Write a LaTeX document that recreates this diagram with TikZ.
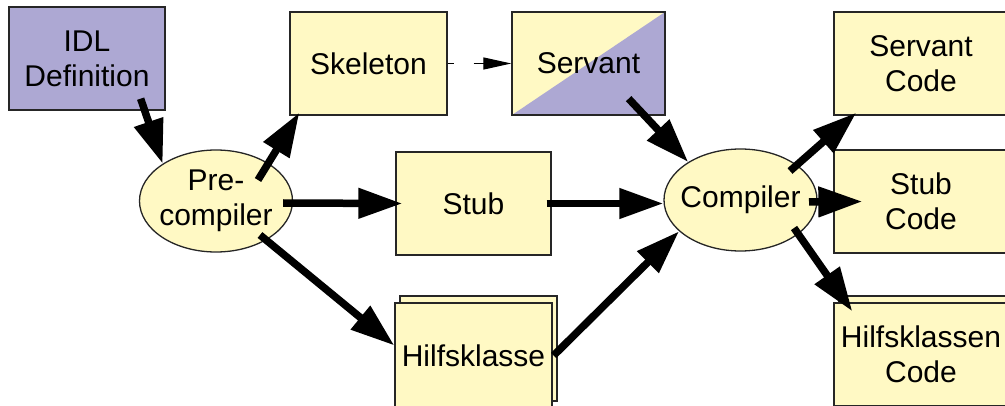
\documentclass[tikz,border=0pt]{standalone}
\usepackage{fontspec}
\setmainfont{Liberation Sans}
\usetikzlibrary{arrows.meta,shapes.geometric,shadows}

\definecolor{boxyellow}{RGB}{255,249,196}
\definecolor{idlpurple}{RGB}{173,168,211}

\begin{document}
\begin{tikzpicture}[x=1pt,y=1pt,
    every node/.style={font=\fontsize{30}{35}\selectfont, align=center, inner sep=0pt},
    box/.style={draw=black!85, line width=1.3pt, fill=boxyellow, minimum height=103pt},
    idlbox/.style={box, fill=idlpurple},
    prog/.style={ellipse, draw=black!85, line width=1.3pt, fill=boxyellow,
        inner xsep=-15pt, minimum width=153pt, minimum height=102pt},
    stack/.style={box, copy shadow={shadow xshift=5pt, shadow yshift=7pt,
        fill=boxyellow, draw=black!85, line width=1.3pt}},
    flow/.style={line width=7.5pt, -{Triangle[length=44pt,width=29pt]}},
    link/.style={line width=1.2pt, dash pattern=on 6pt off 20pt on 14pt off 20pt,
        -{Triangle[length=28pt,width=12pt]}}]
\useasboundingbox (0,0) rectangle (1005,405);

% sources and generated parts
\node[idlbox, minimum width=156pt] (idl) at (87,346.5) {IDL\\Definition};
\node[prog] (precomp) at (216,204) {Pre-\\compiler};
\node[box, minimum width=157pt] (skel) at (368.5,341.5) {Skeleton};
\node[box, minimum width=153pt, path picture={
    \fill[idlpurple] (path picture bounding box.south west)
        -- (path picture bounding box.north east)
        -- (path picture bounding box.south east) -- cycle;}]
    (servant) at (588.5,341.5) {Servant};
\node[box, minimum width=155pt] (stub) at (473.5,201.5) {Stub};
\node[stack, minimum width=157pt, minimum height=105pt] (hilf) at (473.5,49.5) {Hilfsklasse};

% compiler and its results
\node[prog] (compiler) at (740.5,205) {Compiler};
\node[box, minimum width=174pt] (servcode) at (921,341.5) {Servant\\Code};
\node[box, minimum width=174pt] (stubcode) at (921,203.5) {Stub\\Code};
\node[stack, minimum width=174pt] (hilfcode) at (921,50.5) {Hilfsklassen\\Code};

% precompiler in and out
\draw[flow] ([shift={(-25,12)}]idl.south east) -- (precomp.145);
\draw[flow] ([shift={(42,21)}]precomp.center) -- ([shift={(10,3)}]skel.south west);
\draw[flow] ([shift={(-10,-2)}]precomp.east) -- ([xshift=7]stub.west);
\draw[flow] ([shift={(44,-34)}]precomp.center) -- ([yshift=10]hilf.west);

% compiler in
\draw[flow] ([xshift=1]hilf.east) -- (compiler.207);
\draw[flow] ([xshift=-5]stub.east) -- (stub.east -| compiler.west);
\draw[flow] ([shift={(-37,17)}]servant.south east) -- (compiler.144);

% compiler out
\draw[flow] ([shift={(49.5,29)}]compiler.center) -- ([shift={(23,3)}]servcode.south west);
\draw[flow] ([shift={(68.5,-2)}]compiler.center) -- ([xshift=29]stubcode.west);
\draw[flow] ([shift={(53.5,-28)}]compiler.center) -- ([shift={(19,-9)}]hilfcode.north west);

% skeleton filled by the servant
\draw[link] (skel.east) -- (servant.west);
\end{tikzpicture}
\end{document}
